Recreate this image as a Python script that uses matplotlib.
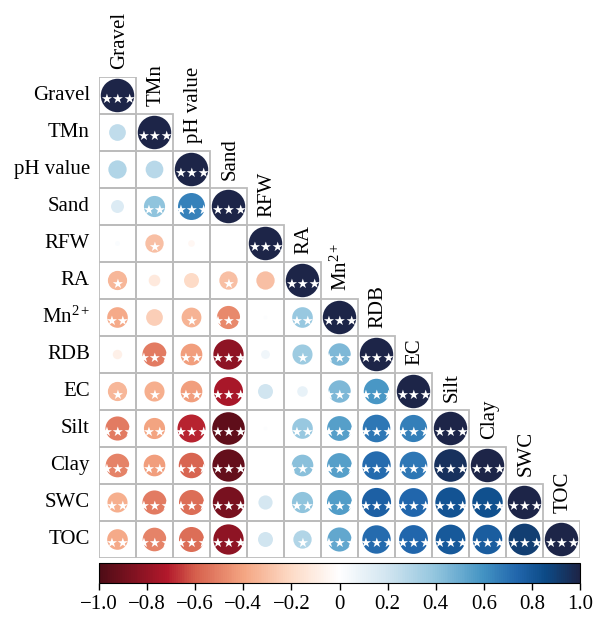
import numpy as np
import matplotlib
matplotlib.use("Agg")
import matplotlib.pyplot as plt
from matplotlib.colors import LinearSegmentedColormap, Normalize
from matplotlib.patches import Rectangle
from matplotlib.cm import ScalarMappable

plt.rcParams['font.family'] = ['Liberation Serif', 'DejaVu Serif']
plt.rcParams['mathtext.fontset'] = 'custom'
plt.rcParams['mathtext.rm'] = 'Liberation Serif'
plt.rcParams['mathtext.it'] = 'Liberation Serif:italic'

names = ["Gravel", "TMn", "pH value", "Sand", "RFW", "RA", "Mn$^{2+}$",
         "RDB", "EC", "Silt", "Clay", "SWC", "TOC"]

# lower triangle, row i has i values (columns 0..i-1); diagonal = 1
r_tmn = [0.25]
r_ph = [0.30, 0.28]
r_sand = [0.15, 0.40, 0.65]
r_rfw = [0.02, -0.30, -0.04, 0.0]
r_ra = [-0.33, -0.12, -0.20, -0.30, -0.30]
r_mn = [-0.38, -0.25, -0.35, -0.48, 0.01, 0.38]
r_rdb = [-0.08, -0.52, -0.42, -0.82, 0.07, 0.36, 0.45]
r_ec = [-0.33, -0.36, -0.42, -0.75, 0.20, 0.10, 0.45, 0.58]
r_silt = [-0.52, -0.40, -0.70, -0.95, 0.01, 0.38, 0.55, 0.68, 0.66]
r_clay = [-0.50, -0.42, -0.58, -0.93, 0.0, 0.42, 0.55, 0.72, 0.68, 0.95]
r_swc = [-0.36, -0.52, -0.56, -0.88, 0.18, 0.40, 0.56, 0.76, 0.74, 0.82, 0.83]
r_toc = [-0.38, -0.50, -0.56, -0.82, 0.20, 0.30, 0.52, 0.72, 0.74, 0.79, 0.78, 0.90]

s_tmn = [""]
s_ph = ["", ""]
s_sand = ["", "**", "***"]
s_rfw = ["", "*", "", ""]
s_ra = ["*", "", "", "*", ""]
s_mn = ["**", "", "*", "***", "", "**"]
s_rdb = ["", "***", "**", "***", "", "*", "***"]
s_ec = ["*", "*", "**", "***", "", "", "***", "***"]
s_silt = ["***", "**", "***", "***", "", "**", "***", "***", "***"]
s_clay = ["***", "**", "***", "***", "", "***", "***", "***", "***", "***"]
s_swc = ["**", "***", "***", "***", "", "**", "***", "***", "***", "***", "***"]
s_toc = ["**", "***", "***", "***", "", "*", "***", "***", "***", "***", "***", "***"]

rows_r = [[], r_tmn, r_ph, r_sand, r_rfw, r_ra, r_mn, r_rdb, r_ec, r_silt, r_clay, r_swc, r_toc]
rows_s = [[], s_tmn, s_ph, s_sand, s_rfw, s_ra, s_mn, s_rdb, s_ec, s_silt, s_clay, s_swc, s_toc]

cmap = LinearSegmentedColormap.from_list("cor", [
    (0.0, "#4e0c16"), (0.14, "#b2182b"), (0.2, "#d6604d"), (0.3, "#f4a582"),
    (0.4, "#fddbc7"), (0.5, "#ffffff"), (0.6, "#d1e5f0"), (0.7, "#92c5de"),
    (0.8, "#4393c3"), (0.87, "#2166ac"), (0.93, "#0c4a86"), (1.0, "#1d2548")])
norm = Normalize(-1, 1)

W, H = 598, 617
fig = plt.figure(figsize=(W / 100, H / 100), dpi=100)
n = len(names)
ax = fig.add_axes([99 / W, (H - 558) / H, 481 / W, 481 / H])
ax.set_xlim(0, n)
ax.set_ylim(n, 0)
ax.axis('off')

xs, ys, vals, stars = [], [], [], []
for i in range(n):
    row = list(rows_r[i]) + [1.0]
    srow = list(rows_s[i]) + ["***"]
    for j in range(i + 1):
        ax.add_patch(Rectangle((j, i), 1, 1, fill=False, edgecolor="#bcbcbc", lw=1.3))
        xs.append(j + 0.5)
        ys.append(i + 0.5)
        vals.append(row[j])
        stars.append(srow[j])

vals = np.array(vals)
ax.scatter(xs, ys, s=580 * np.abs(vals), c=vals, cmap=cmap, norm=norm,
           edgecolors='none', zorder=3)
for x, y, st in zip(xs, ys, stars):
    if st:
        ax.text(x, y + 0.1, "\u2605" * len(st), color="white", fontsize=9.5,
                ha='center', va='center', family='DejaVu Sans', zorder=4)

for i, name in enumerate(names):
    ax.text(-0.25, i + 0.5, name, ha='right', va='center', fontsize=15)
    ax.text(i + 0.55, i - 0.22, name, ha='center', va='bottom', rotation=90, fontsize=15)

cax = fig.add_axes([99 / W, (H - 583) / H, 481 / W, 20 / H])
cb = fig.colorbar(ScalarMappable(norm=norm, cmap=cmap), cax=cax, orientation='horizontal')
ticks = np.linspace(-1, 1, 11)
cb.set_ticks(ticks)
cb.set_ticklabels(["0" if abs(t) < 1e-9 else f"{t:.1f}".replace("-", "\u2212") for t in ticks])
cax.tick_params(labelsize=15, length=5, width=1, direction='out')
cb.outline.set_linewidth(0.8)

fig.savefig("out.png", dpi=100)
